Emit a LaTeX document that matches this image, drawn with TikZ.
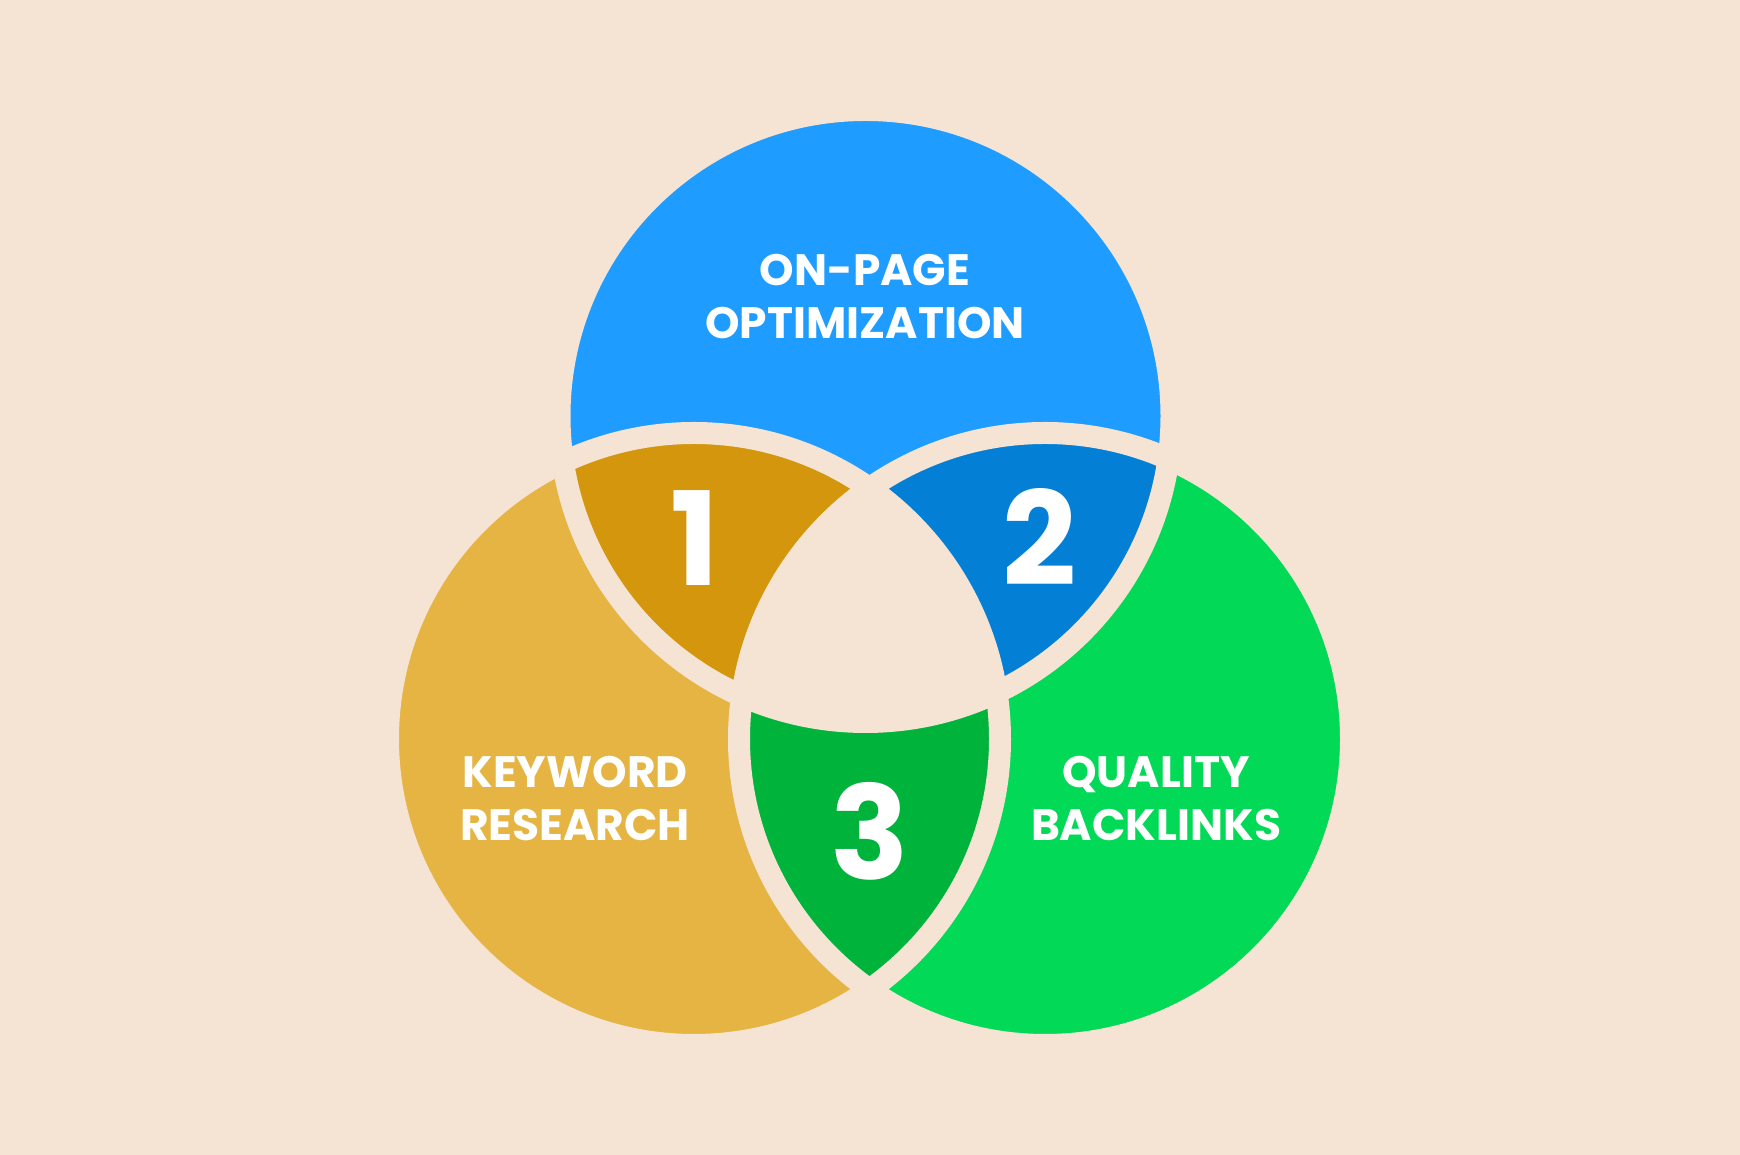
\documentclass[tikz,border=0pt]{standalone}
\usepackage{fontspec}
\setmainfont{Poppins}
\usepackage{tikz}
\definecolor{peach}{HTML}{F5E3D3}
\definecolor{kwgold}{HTML}{E5B443}
\definecolor{opblue}{HTML}{1E9CFF}
\definecolor{qbgreen}{HTML}{02D957}
\definecolor{onegold}{HTML}{D3960C}
\definecolor{twoblue}{HTML}{0380D6}
\definecolor{threegreen}{HTML}{00B33B}
\tikzset{gap/.style = {draw = peach, line width = 0.22cm}}
\tikzset{lbl/.style = {text = white, align = center, inner sep = 0,
                       font = \bfseries\fontsize{12.5}{15}\selectfont}}
\tikzset{num/.style = {text = white, inner sep = 0,
                       font = \bfseries\fontsize{37}{37}\selectfont}}

\begin{document}
\begin{tikzpicture}
      \fill [peach] (0, 0) rectangle (17.4, 11.55);
      \coordinate (op) at (8.655, 7.39);
      \coordinate (kw) at (6.94, 4.16);
      \coordinate (qb) at (10.45, 4.16);

      \fill [kwgold] (kw) circle (3.06);
      \fill [opblue] (op) circle (3.06);
      \fill [qbgreen] (qb) circle (3.06);
      \begin{scope}
        \clip (op) circle (3.06);
        \fill [onegold] (kw) circle (3.06);
        \fill [twoblue] (qb) circle (3.06);
      \end{scope}
      \begin{scope}
        \clip (kw) circle (3.06);
        \fill [threegreen] (qb) circle (3.06);
        \clip (qb) circle (3.06);
        \fill [peach] (op) circle (3.06);
      \end{scope}
      \draw [gap] (kw) circle (3.06);
      \draw [gap] (op) circle (3.06);
      \draw [gap] (qb) circle (3.06);

      \node (optext) at (8.65, 8.587) [lbl] {ON-PAGE\\OPTIMIZATION};
      \node (kwtext) at (5.75, 3.563) [lbl] {KEYWORD\\RESEARCH};
      \node (qbtext) at (11.56, 3.563) [lbl] {QUALITY\\BACKLINKS};
      \node (one) at (6.95, 6.17) [num] {1};
      \node (two) at (10.40, 6.18) [num] {2};
      \node (three) at (8.695, 3.24) [num] {3};
    \end{tikzpicture}
\end{document}
